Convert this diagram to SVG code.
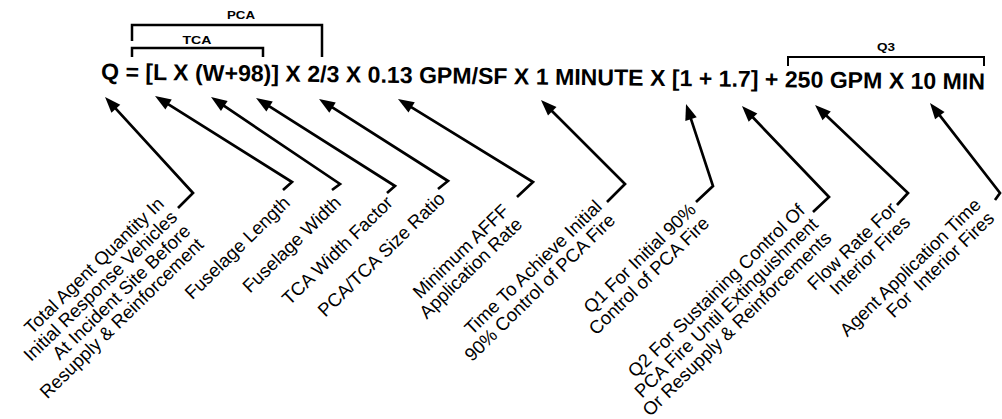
<svg xmlns="http://www.w3.org/2000/svg" width="1002" height="419" viewBox="0 0 1002 419">
<style>
.f{font-family:"Liberation Sans",Arial,Helvetica,sans-serif;font-weight:bold;font-size:23px;fill:#000}
.b{font-family:"Liberation Sans",Arial,sans-serif;font-weight:bold;font-size:11.5px;fill:#000;text-anchor:middle}
.l{font-family:"Liberation Sans",Arial,sans-serif;font-size:18.5px;fill:#000;text-anchor:end}
.br{fill:none;stroke:#000;stroke-width:2.5}
.c path{fill:none;stroke:#000;stroke-width:2.7;marker-start:url(#ah)}
</style>
<defs>
<marker id="ah" markerUnits="userSpaceOnUse" markerWidth="16" markerHeight="12" refX="10" refY="6" orient="auto-start-reverse" overflow="visible"><path d="M0,0 L16,6 L0,12 z" fill="#000"/></marker>
</defs>
<rect width="1002" height="419" fill="#fff"/>
<g id="formula">
<text class="f" x="101" y="79.5" textLength="884" lengthAdjust="spacingAndGlyphs" transform="rotate(0.65 101 79.5)">Q = [L X (W+98)] X 2/3 X 0.13 GPM/SF X 1 MINUTE X [1 + 1.7] + 250 GPM X 10 MIN</text>
</g>
<g id="bracket-pca">
<path class="br" d="M132,41 V25 H322 V57"/>
<text class="b" x="241" y="19" textLength="28" lengthAdjust="spacingAndGlyphs">PCA</text>
</g>
<g id="bracket-tca">
<path class="br" d="M132,57 V48 H263 V57"/>
<text class="b" x="197" y="44" textLength="29" lengthAdjust="spacingAndGlyphs">TCA</text>
</g>
<g id="bracket-q3">
<path class="br" style="stroke-width:2" d="M788,66 V57 H984 V66"/>
<text class="b" x="886" y="51" textLength="18" lengthAdjust="spacingAndGlyphs">Q3</text>
</g>
<g id="connectors" class="c">
<path d="M109.1,101.4 L193,193 L178,208"/>
<path d="M160.1,99.2 L292,182 L283,190"/>
<path d="M216,100.4 L340,184 L332,190"/>
<path d="M261.1,101.2 L395,186 L387,193"/>
<path d="M324.1,102.2 L448,181 L438,189"/>
<path d="M403.1,102.1 L533,182 L517,197"/>
<path d="M545.2,104.2 L625,184 L607,202"/>
<path d="M687.9,109.7 L713,186 L696,202"/>
<path d="M746.1,110.3 L829,197 L813,212"/>
<path d="M819.4,109.1 L908,193 L897,205"/>
<path d="M933.7,107.7 L1000,193 L995,200"/>
</g>
<g id="label-total">
<text class="l" transform="translate(165,205) rotate(-44.3)"><tspan x="0" y="0">Total Agent Quantity In</tspan><tspan x="0" dy="19">Initial Response Vehicles</tspan><tspan x="0" dy="19">At Incident Site Before</tspan><tspan x="0" dy="19">Resupply &amp; Reinforcement</tspan></text>
</g>
<g id="label-length">
<text class="l" transform="translate(291,204) rotate(-44.3)">Fuselage Length</text>
</g>
<g id="label-width">
<text class="l" transform="translate(342,204) rotate(-44.3)">Fuselage Width</text>
</g>
<g id="label-tca">
<text class="l" transform="translate(394,204) rotate(-44.3)">TCA Width Factor</text>
</g>
<g id="label-ratio">
<text class="l" transform="translate(446,200) rotate(-44.3)">PCA/TCA Size Ratio</text>
</g>
<g id="label-afff">
<text class="l" transform="translate(510,212) rotate(-44.3)"><tspan x="0" y="0">Minimum AFFF</tspan><tspan x="0" dy="19">Application Rate</tspan></text>
</g>
<g id="label-time">
<text class="l" transform="translate(603,208) rotate(-44.3)"><tspan x="0" y="0">Time To Achieve Initial</tspan><tspan x="0" dy="19">90% Control of PCA Fire</tspan></text>
</g>
<g id="label-q1">
<text class="l" transform="translate(697,211) rotate(-44.3)"><tspan x="0" y="0">Q1 For Initial 90%</tspan><tspan x="0" dy="19">Control of PCA Fire</tspan></text>
</g>
<g id="label-q2">
<text class="l" transform="translate(806,212) rotate(-44.3)"><tspan x="0" y="0">Q2 For Sustaining Control Of</tspan><tspan x="0" dy="19">PCA Fire Until Extinguishment</tspan><tspan x="0" dy="19">Or Resupply &amp; Reinforcements</tspan></text>
</g>
<g id="label-flow">
<text class="l" transform="translate(898,210) rotate(-44.3)"><tspan x="0" y="0">Flow Rate For</tspan><tspan x="0" dy="19">Interior Fires</tspan></text>
</g>
<g id="label-agent">
<text class="l" style="white-space:pre" transform="translate(982,206) rotate(-44.3)"><tspan x="0" y="0">Agent Application Time</tspan><tspan x="0" dy="19">For  Interior Fires</tspan></text>
</g>
</svg>
